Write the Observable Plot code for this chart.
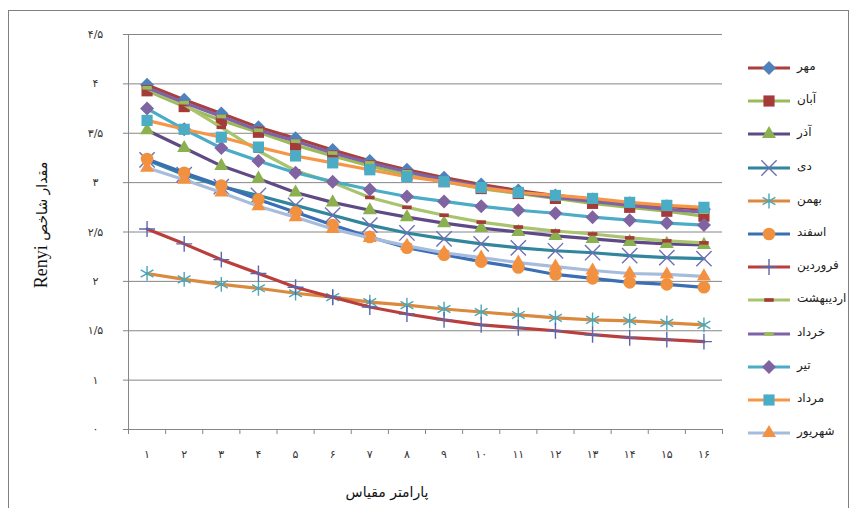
<!DOCTYPE html>
<html>
<head>
<meta charset="utf-8">
<script src="https://cdn.jsdelivr.net/npm/d3@7.8.5/dist/d3.min.js"></script>
<script src="https://cdn.jsdelivr.net/npm/@observablehq/plot@0.6/dist/plot.umd.min.js"></script>
<style>
  html, body { margin: 0; padding: 0; background: #fff; }
  #wrap { position: relative; width: 855px; height: 508px; overflow: hidden; }
  #frame { position: absolute; left: 8px; top: 10px; width: 841px; height: 510px; border: 1px solid #7f7f7f; box-sizing: border-box; }
  #chart { position: absolute; left: 0; top: 0; }
  #legend { position: absolute; left: 746px; top: 0; }
  .item { position: absolute; left: 0; height: 20px; width: 105px; }
  .item svg { position: absolute; left: 0; top: 0; }
  .item span { position: absolute; left: 51px; top: 1px; font: 12px "DejaVu Sans", sans-serif; color: #222; white-space: nowrap; }
</style>
</head>
<body>
<div id="wrap">
  <div id="frame"></div>
  <div id="chart"></div>
  <div id="legend"></div>
</div>
<script>
// ---- data ----
const months = ["مهر","آبان","آذر","دی","بهمن","اسفند","فروردین","اردیبهشت","خرداد","تیر","مرداد","شهریور"];
const scaleParam = [1,2,3,4,5,6,7,8,9,10,11,12,13,14,15,16];
const xLabels = ["۱","۲","۳","۴","۵","۶","۷","۸","۹","۱۰","۱۱","۱۲","۱۳","۱۴","۱۵","۱۶"];
const yTicks = [0.5, 1, 1.5, 2, 2.5, 3, 3.5, 4, 4.5];
const yLabels = ["۰","۱","۱/۵","۲","۲/۵","۳","۳/۵","۴","۴/۵"];

const mehr        = [3.99, 3.84, 3.70, 3.56, 3.45, 3.33, 3.22, 3.13, 3.05, 2.98, 2.92, 2.87, 2.83, 2.79, 2.76, 2.73];
const aban        = [3.93, 3.77, 3.63, 3.51, 3.38, 3.27, 3.17, 3.08, 3.01, 2.94, 2.89, 2.84, 2.79, 2.75, 2.71, 2.66];
const azar        = [3.53, 3.35, 3.17, 3.04, 2.90, 2.80, 2.72, 2.65, 2.59, 2.54, 2.50, 2.46, 2.43, 2.40, 2.38, 2.37];
const dey         = [3.23, 3.08, 2.96, 2.87, 2.77, 2.67, 2.57, 2.49, 2.43, 2.38, 2.34, 2.31, 2.29, 2.26, 2.24, 2.23];
const bahman      = [2.08, 2.02, 1.97, 1.93, 1.88, 1.84, 1.79, 1.76, 1.72, 1.69, 1.66, 1.63, 1.61, 1.60, 1.58, 1.56];
const esfand      = [3.24, 3.10, 2.97, 2.83, 2.70, 2.57, 2.45, 2.34, 2.27, 2.20, 2.14, 2.07, 2.03, 1.99, 1.97, 1.94];
const farvardin   = [2.53, 2.38, 2.22, 2.08, 1.94, 1.84, 1.74, 1.67, 1.61, 1.56, 1.53, 1.50, 1.46, 1.43, 1.41, 1.39];
const ordibehesht = [3.95, 3.79, 3.56, 3.32, 3.12, 3.00, 2.85, 2.75, 2.67, 2.60, 2.55, 2.51, 2.48, 2.44, 2.41, 2.39];
const khordad     = [3.96, 3.81, 3.67, 3.53, 3.42, 3.30, 3.20, 3.11, 3.03, 2.96, 2.90, 2.85, 2.81, 2.77, 2.73, 2.70];
const tir         = [3.75, 3.54, 3.35, 3.22, 3.10, 3.01, 2.93, 2.86, 2.81, 2.76, 2.72, 2.69, 2.65, 2.62, 2.59, 2.57];
const mordad      = [3.63, 3.54, 3.46, 3.36, 3.27, 3.20, 3.13, 3.06, 3.01, 2.95, 2.90, 2.87, 2.84, 2.80, 2.77, 2.75];
const shahrivar   = [3.15, 3.03, 2.90, 2.76, 2.65, 2.53, 2.44, 2.36, 2.29, 2.24, 2.19, 2.15, 2.11, 2.08, 2.07, 2.05];

const seriesValues = [mehr, aban, azar, dey, bahman, esfand, farvardin, ordibehesht, khordad, tir, mordad, shahrivar];

// ---- styles ----
const dash = { draw(ctx, size) { const w = Math.sqrt(size) * 0.85, h = w * 0.38; ctx.rect(-w / 2, -h / 2, w, h); } };
const styles = [
  { line: "#A8403D", sym: "diamond2", fill: "#4F81BD", stroke: "none", r: 6.3 },
  { line: "#9BBB59", sym: "square",   fill: "#A53B38", stroke: "none", r: 6.3 },
  { line: "#5F4A86", sym: "triangle", fill: "#8BB050", stroke: "none", r: 5.2 },
  { line: "#31859C", sym: "times",    fill: "none",    stroke: "#6F6FB5", r: 7 },
  { line: "#D98A3E", sym: "asterisk", fill: "none",    stroke: "#4BA6B8", r: 7 },
  { line: "#3A6EB5", sym: "circle",   fill: "#F0913F", stroke: "none", r: 6.3 },
  { line: "#BA3F3C", sym: "plus",     fill: "none",    stroke: "#5868B0", r: 5.2 },
  { line: "#A9C46E", sym: dash,       fill: "#A53B38", stroke: "none", r: 6.3 },
  { line: "#7F63A8", sym: dash,       fill: "#9BBB59", stroke: "none", r: 6.3 },
  { line: "#4BACC6", sym: "diamond2", fill: "#8064A2", stroke: "none", r: 6.3 },
  { line: "#F79646", sym: "square",   fill: "#4BACC6", stroke: "none", r: 6.3 },
  { line: "#A7BCDD", sym: "triangle", fill: "#F39140", stroke: "none", r: 5.2 }
];

const xBounds = d3.range(0.5, 17, 1);

const marks = [
  Plot.gridY(yTicks.slice(1), { stroke: "#868686", strokeOpacity: 1, strokeWidth: 1 }),
  Plot.ruleY([0.5], { stroke: "#868686", strokeWidth: 1 }),
  Plot.ruleX([0.5], { stroke: "#868686", strokeWidth: 1 }),
  Plot.axisY({ ticks: yTicks, tickSize: 5, tickPadding: 28, textAnchor: "middle",
    tickFormat: d => yLabels[yTicks.indexOf(d)], stroke: "#868686", fill: "#333",
    fontSize: 11, fontFamily: "DejaVu Sans", label: null }),
  Plot.axisX({ ticks: xBounds, tickSize: 5, tickFormat: () => "", stroke: "#868686", label: null }),
  Plot.axisX({ ticks: scaleParam, tickSize: 0, tickPadding: 21,
    tickFormat: d => xLabels[scaleParam.indexOf(d)], fill: "#333",
    fontSize: 11, fontFamily: "DejaVu Sans", label: null })
];

seriesValues.forEach((vals, i) => {
  const rows = scaleParam.map((s, j) => ({ s, v: vals[j] }));
  const st = styles[i];
  marks.push(Plot.line(rows, { x: "s", y: "v", stroke: st.line, strokeWidth: 3.2, strokeLinejoin: "round", strokeLinecap: "round" }));
  marks.push(Plot.dot(rows, { x: "s", y: "v", symbol: st.sym, r: st.r,
    fill: st.fill, stroke: st.stroke, strokeWidth: st.stroke === "none" ? 0 : 1.4 }));
});

const svg = Plot.plot({
  width: 855, height: 508,
  marginLeft: 128, marginRight: 133, marginTop: 34, marginBottom: 79,
  x: { type: "linear", domain: [0.5, 16.5] },
  y: { type: "linear", domain: [0.5, 4.5] },
  style: { background: "transparent", overflow: "visible" },
  marks
});

// axis titles
const s = d3.select(svg);
const yt = s.append("text")
  .attr("transform", "translate(47,225) rotate(-90)")
  .attr("text-anchor", "middle")
  .attr("fill", "#111");
yt.append("tspan").attr("font-family", "Liberation Serif, DejaVu Serif, serif").attr("font-size", 18).text("Renyi");
yt.append("tspan").attr("font-family", "DejaVu Sans, sans-serif").attr("font-size", 14).text(" مقدار شاخص");

s.append("text")
  .attr("x", 387).attr("y", 497)
  .attr("text-anchor", "middle")
  .attr("font-family", "DejaVu Sans, sans-serif")
  .attr("font-size", 14)
  .attr("fill", "#111")
  .text("پارامتر مقیاس");

document.getElementById("chart").appendChild(svg);

// legend
const symMap = { diamond2: d3.symbolDiamond2, square: d3.symbolSquare, triangle: d3.symbolTriangle,
  times: d3.symbolTimes, asterisk: d3.symbolAsterisk, circle: d3.symbolCircle, plus: d3.symbolPlus };
const legend = d3.select("#legend");
months.forEach((m, i) => {
  const st = styles[i];
  const item = legend.append("div").attr("class", "item").style("top", (58 + i * 33.2) + "px");
  const g = item.append("svg").attr("width", 48).attr("height", 20);
  g.append("line").attr("x1", 2).attr("x2", 44).attr("y1", 10).attr("y2", 10)
    .attr("stroke", st.line).attr("stroke-width", 3.2);
  const symType = typeof st.sym === "string" ? symMap[st.sym] : st.sym;
  const stroked = st.stroke !== "none";
  g.append("path")
    .attr("d", d3.symbol(symType, Math.PI * st.r * st.r)())
    .attr("transform", "translate(23,10)")
    .attr("fill", st.fill)
    .attr("stroke", st.stroke)
    .attr("stroke-width", stroked ? 1.4 : 0);
  item.append("span").text(m);
});
</script>
</body>
</html>
